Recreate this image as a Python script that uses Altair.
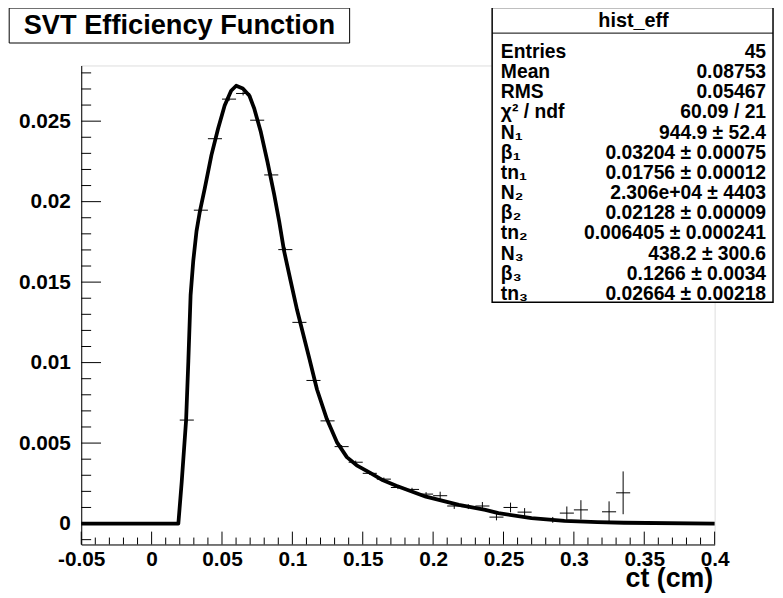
import altair as alt
import pandas as pd

# ---------------- data ----------------
bin_centers = [0.025, 0.035, 0.045, 0.055, 0.065, 0.075, 0.085, 0.095, 0.105, 0.115,
               0.125, 0.135, 0.145, 0.155, 0.165, 0.175, 0.185, 0.195, 0.205, 0.215,
               0.225, 0.235, 0.245, 0.255, 0.265, 0.285, 0.295, 0.305, 0.325, 0.335]
eff_values = [0.00643, 0.01947, 0.02391, 0.02637, 0.02672, 0.02506, 0.02166, 0.01702, 0.0125, 0.00889,
              0.00638, 0.00478, 0.00381, 0.00312, 0.00276, 0.00224, 0.00212, 0.00183, 0.00173, 0.00109,
              0.00105, 0.00109, 0.0004, 0.001, 0.00071, 0.00023, 0.00065, 0.00085, 0.00073, 0.00191]
eff_errors = [0.0001, 0.00012, 0.00012, 0.00012, 0.00012, 0.00012, 0.00012, 0.00012, 0.0001, 0.0001,
              0.0001, 0.0001, 0.0001, 0.0001, 0.0001, 0.0001, 0.0001, 0.00012, 0.00025, 0.00018,
              0.00015, 0.00025, 0.0002, 0.0003, 0.00025, 0.00018, 0.00041, 0.0006, 0.00065, 0.00133]
bin_half_width = 0.005

curve_x = [-0.05, 0.019, 0.0214, 0.0245, 0.0261, 0.0277, 0.0296, 0.0319, 0.0343, 0.0378,
           0.0425, 0.0472, 0.0519, 0.0565, 0.0601, 0.0648, 0.0695, 0.073, 0.0776, 0.0823,
           0.0871, 0.0906, 0.0941, 0.0987, 0.1034, 0.1117, 0.1175, 0.1245, 0.1316, 0.1387,
           0.1457, 0.155, 0.1644, 0.1738, 0.1949, 0.2183, 0.2371, 0.2464, 0.2699, 0.2933,
           0.3167, 0.3355, 0.4]
curve_y = [0.0, 0.0, 0.0026, 0.00643, 0.0101, 0.0142, 0.01633, 0.01817, 0.0194, 0.02084,
           0.02289, 0.02453, 0.02597, 0.02689, 0.0272, 0.02703, 0.02658, 0.02576, 0.02432, 0.02248,
           0.02043, 0.01879, 0.01694, 0.0151, 0.01325, 0.01038, 0.00833, 0.00649, 0.00506, 0.00413,
           0.00362, 0.00317, 0.00269, 0.00235, 0.00167, 0.00116, 0.00085, 0.00065, 0.00034, 0.00017,
           0.00009, 0.00005, 0.0]

x_major = [-0.05, 0, 0.05, 0.1, 0.15, 0.2, 0.25, 0.3, 0.35, 0.4]
y_major = [0, 0.005, 0.01, 0.015, 0.02, 0.025]
x_minor = [round(-0.05 + 0.01 * i, 2) for i in range(46) if i % 5 != 0]
y_minor = [round(-0.001 + 0.001 * i, 3) for i in range(30) if i % 5 != 1]

title_text = "SVT Efficiency Function"
x_title = "ct (cm)"
stat_header = "hist_eff"
stat_names = ["Entries", "Mean", "RMS", "χ² / ndf", "N₁", "β₁", "tn₁", "N₂", "β₂",
              "tn₂", "N₃", "β₃", "tn₃"]
stat_values = ["45", "0.08753", "0.05467", "60.09 / 21", "944.9 ± 52.4",
               "0.03204 ± 0.00075", "0.01756 ± 0.00012", "2.306e+04 ± 4403",
               "0.02128 ± 0.00009", "0.006405 ± 0.000241", "438.2 ± 300.6",
               "0.1266 ± 0.0034", "0.02664 ± 0.00218"]

# ---------------- tables ----------------
pts = pd.DataFrame({"x": bin_centers, "v": eff_values, "e": eff_errors})
pts["lo"] = pts["v"] - pts["e"]
pts["hi"] = pts["v"] + pts["e"]
pts["xl"] = pts["x"] - bin_half_width
pts["xr"] = pts["x"] + bin_half_width
curve = pd.DataFrame({"cx": curve_x, "cy": curve_y, "i": list(range(len(curve_x)))})

W, H = 640, 484
FONT = "Liberation Sans"

xs = alt.Scale(domain=[-0.05, 0.4], nice=False, zero=False)
ys = alt.Scale(domain=[-0.0013, 0.02846], nice=False, zero=False)

x_axis = alt.Axis(values=x_major, labelExpr="'' + datum.value", ticks=False, tickSize=0,
                  grid=False, domainColor="black", domainWidth=1,
                  labelFont=FONT, labelFontSize=21, labelFontWeight="bold", labelColor="black",
                  labelPadding=4, labelFlush=False, labelOverlap=False,
                  title=x_title, titleFont=FONT, titleFontSize=27, titleFontWeight="bold",
                  titleColor="black", titleAlign="right", titleBaseline="alphabetic",
                  titleX=638, titleY=42, titleAnchor="end")
y_axis = alt.Axis(values=y_major, labelExpr="'' + datum.value", ticks=False, tickSize=0,
                  grid=False, domainColor="black", domainWidth=1,
                  labelFont=FONT, labelFontSize=21, labelFontWeight="bold", labelColor="black",
                  labelPadding=11, labelFlush=False, labelOverlap=False, title=None)

X = lambda f: alt.X(f, type="quantitative", scale=xs, axis=x_axis, title=x_title)
Y = lambda f: alt.Y(f, type="quantitative", scale=ys, axis=y_axis, title=None)

# tick marks drawn inside the frame (ROOT style)
xmaj = alt.Chart(pd.DataFrame({"t": x_major})).mark_rule(color="black", strokeWidth=1).encode(
    x=X("t"), y=alt.value(H), y2=alt.value(H - 13))
xmin = alt.Chart(pd.DataFrame({"t": x_minor})).mark_rule(color="black", strokeWidth=1).encode(
    x=X("t"), y=alt.value(H), y2=alt.value(H - 7))
ymaj = alt.Chart(pd.DataFrame({"t": y_major})).mark_rule(color="black", strokeWidth=1).encode(
    y=Y("t"), x=alt.value(0), x2=alt.value(20))
ymin = alt.Chart(pd.DataFrame({"t": y_minor})).mark_rule(color="black", strokeWidth=1).encode(
    y=Y("t"), x=alt.value(0), x2=alt.value(10))

hbars = alt.Chart(pts).mark_rule(color="black", strokeWidth=1).encode(
    x=X("xl"), x2="xr", y=Y("v"))
vbars = alt.Chart(pts).mark_rule(color="black", strokeWidth=1).encode(
    x=X("x"), y=Y("lo"), y2="hi")
line = alt.Chart(curve).mark_line(color="black", strokeWidth=3.8, strokeJoin="round").encode(
    x=X("cx"), y=Y("cy"), order="i:Q")

# title box
tbox = alt.Chart(pd.DataFrame({"a": [0]})).mark_rect(
    fill="white", stroke="black", strokeWidth=1).encode(
    x=alt.value(-72.8), x2=alt.value(271.2), y=alt.value(-58), y2=alt.value(-22.7))
ttext = alt.Chart(pd.DataFrame({"a": [0]})).mark_text(
    text=title_text, font=FONT, fontSize=27.5, fontWeight="bold", color="black",
    align="center", baseline="middle").encode(x=alt.value(99.2), y=alt.value(-39.8))

# stat box
sbox = alt.Chart(pd.DataFrame({"a": [0]})).mark_rect(
    fill="white", stroke="black", strokeWidth=1.5).encode(
    x=alt.value(415.2), x2=alt.value(699), y=alt.value(-58.7), y2=alt.value(239.3))
ssep = alt.Chart(pd.DataFrame({"a": [0]})).mark_rule(color="black", strokeWidth=1).encode(
    x=alt.value(415.2), x2=alt.value(699), y=alt.value(-32.7))
shead = alt.Chart(pd.DataFrame({"a": [0]})).mark_text(
    text=stat_header, font=FONT, fontSize=20, fontWeight="bold", color="black",
    align="center", baseline="middle").encode(x=alt.value(558), y=alt.value(-45.2))
snames = alt.Chart(pd.DataFrame({"a": [0]})).mark_text(
    text=stat_names, font=FONT, fontSize=19.5, fontWeight="bold", color="black",
    align="left", baseline="alphabetic", lineHeight=20.4).encode(
    x=alt.value(424), y=alt.value(-7.8))
svals = alt.Chart(pd.DataFrame({"a": [0]})).mark_text(
    text=stat_values, font=FONT, fontSize=19.5, fontWeight="bold", color="black",
    align="right", baseline="alphabetic", lineHeight=20.4).encode(
    x=alt.value(692), y=alt.value(-7.8))

chart = alt.layer(
    xmin, xmaj, ymin, ymaj, hbars, vbars, line, tbox, ttext, sbox, ssep, shead, snames, svals
).properties(
    width=W, height=H,
    autosize=alt.AutoSizeParams(type="none"),
    padding={"left": 74, "top": 55, "right": 61, "bottom": 51},
).configure_view(stroke="#555555", strokeWidth=1).configure(background="white")

chart.save("out.html", embed_options={"renderer": "svg", "actions": False})
